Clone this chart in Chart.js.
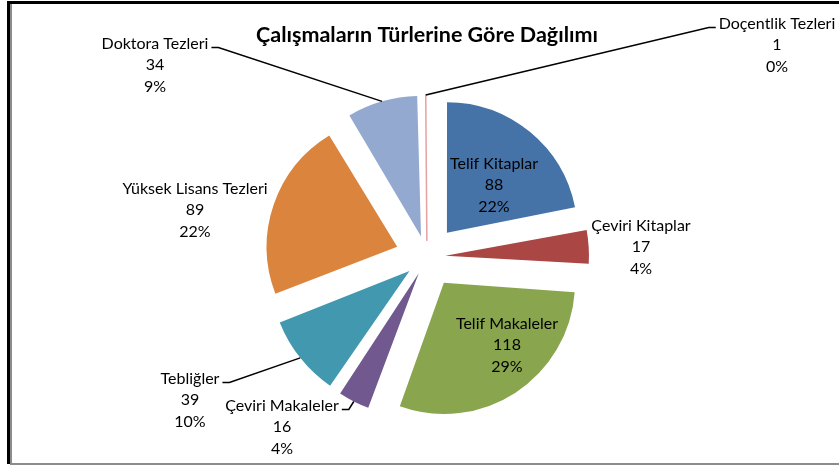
<!DOCTYPE html>
<html lang="tr">
  <head>
    <meta charset="UTF-8" />
    <title>Çalışmaların Türlerine Göre Dağılımı</title>
    <script src="https://cdn.jsdelivr.net/npm/chart.js"></script>
    <style>
      body { margin: 0; background: #fff; }
      #wrap { position: relative; width: 839px; height: 465px; overflow: hidden; }
      /* frame like the excel chart area */
      .outer { position: absolute; left: 7px; top: 1px; width: 850px; height: 463px;
        border-top: 3px solid #000; border-left: 3px solid #000; box-sizing: border-box; }
      .inner { position: absolute; left: 10px; top: 4px; width: 850px; height: 461px;
        border-left: 2px solid #8c8c8c; border-bottom: 2px solid #8c8c8c; box-sizing: border-box; }
      canvas { position: absolute; left: 0; top: 0; }
    </style>
  </head>
  <body>
    <div id="wrap">
      <div class="outer"></div>
      <div class="inner"></div>
      <canvas id="pieChart" width="839" height="465"></canvas>
    </div>

    <script>
      const title = "Çalışmaların Türlerine Göre Dağılımı";
      const categories = [
        "Telif Kitaplar",
        "Çeviri Kitaplar",
        "Telif Makaleler",
        "Çeviri Makaleler",
        "Tebliğler",
        "Yüksek Lisans Tezleri",
        "Doktora Tezleri",
        "Doçentlik Tezleri",
      ];
      const values = [88, 17, 118, 16, 39, 89, 34, 1];
      const percentLabels = ["22%", "4%", "29%", "4%", "10%", "22%", "9%", "0%"];

      const colors = ["#4572A7", "#AA4643", "#89A54E", "#71588F", "#4198AF", "#DB843D", "#93A9CF", "#E3A3A2"];

      // label block centre, relative to pie centre, and which side the leader leaves from
      const labelPlace = [
        { dx: 67, dy: -72, leader: null },
        { dx: 214, dy: -10, leader: null },
        { dx: 80, dy: 88, leader: null },
        { dx: -145, dy: 170, leader: "right" },
        { dx: -237, dy: 143, leader: "right" },
        { dx: -232, dy: -47, leader: null },
        { dx: -272, dy: -192, leader: "right" },
        { dx: 350, dy: -212, leader: "left" },
      ];

      const EXPLODE = 32; // wanted shift of every slice in px
      const RADIUS = 130;
      const LINE_H = 21.5;
      const total = values.reduce((a, b) => a + b, 0);

      // chart.js moves a slice by offset/4*(1+fix), fix depends on slice size
      function sliceOffset(ctx) {
        const c = (values[ctx.dataIndex] / total) * Math.PI * 2;
        const fix = 1 - Math.sin(Math.min(Math.PI, c));
        return (4 * EXPLODE) / (1 + fix);
      }

      // very thin slices get an outline so they still show up
      function sliceBorder(ctx) {
        return values[ctx.dataIndex] / total < 0.01 ? 1.5 : 0;
      }

      const labelPlugin = {
        id: "sliceLabels",
        afterDatasetsDraw(chart) {
          const ctx = chart.ctx;
          const meta = chart.getDatasetMeta(0);
          ctx.save();

          ctx.font = "bold 21.5px Lato";
          ctx.fillStyle = "#000";
          ctx.textAlign = "center";
          ctx.textBaseline = "middle";
          ctx.fillText(title, 427, 35);

          ctx.font = "16px Lato";
          meta.data.forEach((arc, i) => {
            const p = arc.getProps(["x", "y", "startAngle", "endAngle"], true);
            const place = labelPlace[i];
            const lx = p.x + place.dx;
            const ly = p.y + place.dy;
            const lines = [categories[i], String(values[i]), percentLabels[i]];
            lines.forEach((t, k) => {
              ctx.fillText(t, lx, ly + (k - 1) * LINE_H);
            });

            if (place.leader) {
              const mid = (p.startAngle + p.endAngle) / 2;
              const r = RADIUS + EXPLODE;
              const ex = p.x + Math.cos(mid) * r;
              const ey = p.y + Math.sin(mid) * r;
              const w = ctx.measureText(categories[i]).width;
              const y0 = ly - LINE_H + 4;
              const dir = place.leader === "right" ? 1 : -1;
              const sx = lx + dir * (w / 2 + 3);
              ctx.beginPath();
              ctx.moveTo(sx, y0);
              ctx.lineTo(sx + dir * 7, y0);
              ctx.lineTo(ex, ey);
              ctx.strokeStyle = "#000";
              ctx.lineWidth = 1.5;
              ctx.stroke();
            }
          });
          ctx.restore();
        },
      };

      const chart = new Chart(document.getElementById("pieChart"), {
        type: "pie",
        data: {
          labels: categories,
          datasets: [
            {
              data: values,
              backgroundColor: colors,
              borderColor: colors,
              borderWidth: sliceBorder,
              offset: sliceOffset,
              hoverOffset: 0,
            },
          ],
        },
        options: {
          responsive: false,
          animation: false,
          radius: RADIUS,
          layout: { padding: { left: 15, right: 0, top: 49, bottom: 0 } },
          plugins: {
            legend: { display: false },
            title: { display: false },
            tooltip: { enabled: false },
          },
        },
        plugins: [labelPlugin],
      });
    </script>
  </body>
</html>
